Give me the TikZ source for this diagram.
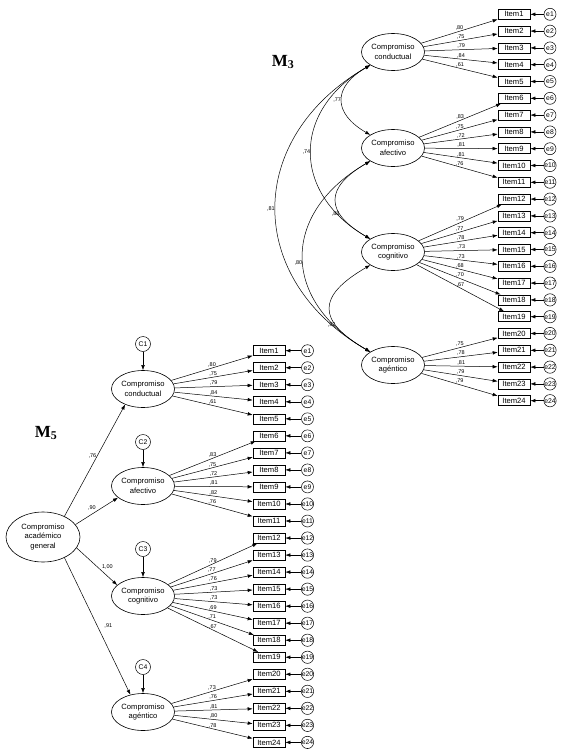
\documentclass[tikz,border=0pt]{standalone}
\usepackage{fontspec}
\setmainfont{Liberation Sans}
\newfontfamily\serifbf{Liberation Serif}
\usetikzlibrary{shapes.geometric,arrows.meta}
\tikzset{
	latent/.style={draw, ellipse, line width=0.6pt, minimum width=63pt, minimum height=37pt, inner sep=0pt, align=center, font=\fontsize{7.6}{9.5}\selectfont},
	item/.style={draw, rectangle, line width=0.6pt, minimum width=32pt, minimum height=10pt, inner sep=0pt, font=\fontsize{7.6}{8}\selectfont},
	err/.style={draw, circle, line width=0.5pt, minimum size=12pt, inner sep=0pt, font=\fontsize{6.8}{7}\selectfont},
	arr/.style={-{Latex[length=5pt,width=3.6pt]}, line width=0.5pt},
	dbl/.style={{Latex[length=5pt,width=3.6pt]}-{Latex[length=5pt,width=3.6pt]}, line width=0.5pt},
	coef/.style={font=\fontsize{5.5}{6}\selectfont, inner sep=0.8pt, midway, above},
	mlabel/.style={font=\serifbf\bfseries\fontsize{17}{17}\selectfont}
}
\begin{document}
\begin{tikzpicture}[x=1pt,y=1pt]
	\useasboundingbox (0,0) rectangle (564,-755);
	% M3
	\node[mlabel] (m3) at (283,-62) {M\textsubscript{3}};
	\node[latent] (cond3) at (393,-52) {Compromiso\\conductual};
	\node[latent] (afec3) at (393,-148) {Compromiso\\afectivo};
	\node[latent] (cogn3) at (393,-252) {Compromiso\\cognitivo};
	\node[latent] (agen3) at (393,-365) {Compromiso\\agéntico};
	\foreach \k in {1,...,24}{
		\node[item] (ia\k) at (514,{-14.3-16.8*(\k-1)}) {Item\k};
		\node[err] (ea\k) at (550,{-14.3-16.8*(\k-1)}) {e\k};
		\draw[arr] (ea\k) -- (ia\k);
	}
	\foreach \k/\fc/\lv in {1/cond3/80,2/cond3/75,3/cond3/79,4/cond3/84,5/cond3/61,
		6/afec3/83,7/afec3/75,8/afec3/72,9/afec3/81,10/afec3/81,11/afec3/76,
		12/cogn3/79,13/cogn3/77,14/cogn3/78,15/cogn3/73,16/cogn3/73,17/cogn3/68,18/cogn3/70,19/cogn3/67,
		20/agen3/75,21/agen3/78,22/agen3/81,23/agen3/79,24/agen3/79}
		\draw[arr] (\fc) -- node[coef] {,\lv} (ia\k);
	\draw[dbl] (cond3) to[bend right=60, looseness=1.6] node[coef,left,pos=0.5] {,77} (afec3);
	\draw[dbl] (cond3) to[bend right=60, looseness=1.34] node[coef,left,pos=0.5] {,74} (cogn3);
	\draw[dbl] (cond3) to[bend right=60, looseness=1.3] node[coef,left,pos=0.5] {,81} (agen3);
	\draw[dbl] (afec3) to[bend right=60, looseness=1.74] node[coef,left,pos=0.68] {,88} (cogn3);
	\draw[dbl] (afec3) to[bend right=60, looseness=1.39] node[coef,left,pos=0.53] {,80} (agen3);
	\draw[dbl] (cogn3) to[bend right=60, looseness=1.83] node[coef,left,pos=0.7] {,92} (agen3);
	% M5
	\node[mlabel] (m5) at (46,-433) {M\textsubscript{5}};
	\node[latent, minimum width=74pt, minimum height=50pt] (gen) at (43,-537) {Compromiso\\académico\\general};
	\node[latent] (cond5) at (143,-389) {Compromiso\\conductual};
	\node[latent] (afec5) at (143,-486) {Compromiso\\afectivo};
	\node[latent] (cogn5) at (143,-596) {Compromiso\\cognitivo};
	\node[latent] (agen5) at (143,-712) {Compromiso\\agéntico};
	\foreach \n/\fc/\yy in {1/cond5/344,2/afec5/442,3/cogn5/549,4/agen5/667}{
		\node[err, minimum size=15pt] (c\n) at (143,-\yy) {C\n};
		\draw[arr] (c\n) -- (\fc);
	}
	\foreach \k in {1,...,24}{
		\node[item] (ib\k) at (269,{-350.7-17.03*(\k-1)}) {Item\k};
		\node[err] (eb\k) at (307.5,{-350.7-17.03*(\k-1)}) {e\k};
		\draw[arr] (eb\k) -- (ib\k);
	}
	\foreach \k/\fc/\lv in {1/cond5/80,2/cond5/75,3/cond5/79,4/cond5/84,5/cond5/61,
		6/afec5/83,7/afec5/75,8/afec5/72,9/afec5/81,10/afec5/82,11/afec5/76,
		12/cogn5/79,13/cogn5/77,14/cogn5/76,15/cogn5/73,16/cogn5/73,17/cogn5/69,18/cogn5/71,19/cogn5/67,
		20/agen5/73,21/agen5/76,22/agen5/81,23/agen5/80,24/agen5/78}
		\draw[arr] (\fc) -- node[coef] {,\lv} (ib\k);
	\draw[arr] (gen.44) -- node[coef,pos=0.54,left] {,76} (cond5.221);
	\draw[arr] (gen.21) -- node[coef,pos=0.5,above left] {,90} (afec5.205);
	\draw[arr] (gen.-18) -- node[coef,pos=0.6,above right] {1,00} (cogn5.157);
	\draw[arr] (gen.-44) -- node[coef,pos=0.5,right=6pt] {,91} (agen5.126);
\end{tikzpicture}
\end{document}
